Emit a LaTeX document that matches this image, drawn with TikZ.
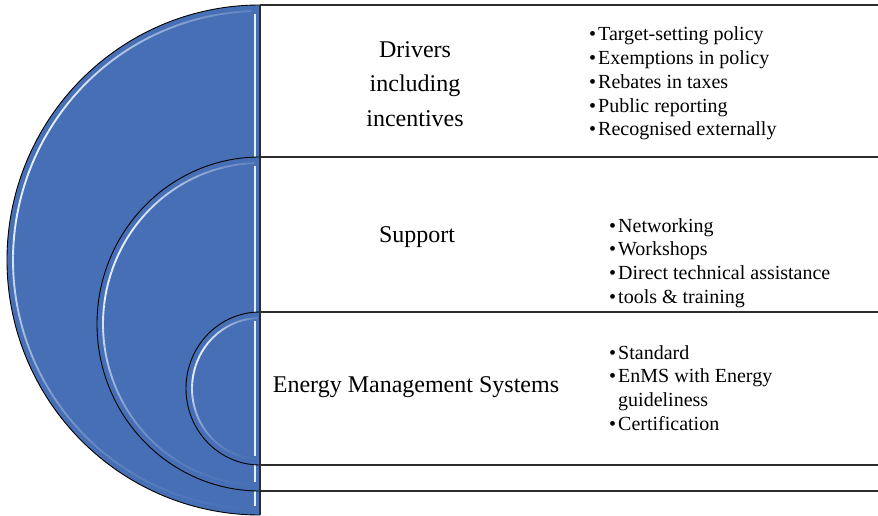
\documentclass[tikz,border=0pt]{standalone}
\usepackage{fontspec}
\setmainfont{Liberation Serif}
\newfontfamily\libserif{Liberation Serif}

\definecolor{shapeblue}{RGB}{71,111,181}
\definecolor{glint}{RGB}{228,238,252}
\definecolor{rulegray}{RGB}{45,45,45}

\tikzset{
  sepline/.style={draw=rulegray, line width=1.3pt},
  heading/.style={font=\libserif\fontsize{24}{34.5}\selectfont, align=center, inner sep=0pt},
  bulletlist/.style={font=\libserif\fontsize{20}{23.75}\selectfont, align=left, inner sep=0pt, anchor=west},
}

% bullet with a small gap before the item text
\newcommand\itm{\textbullet\kern2pt}
\newcommand\itmgap{\hphantom{\textbullet}\kern2pt}

% left half of an ellipse standing on the divider x = 260
% #1 centre y, #2 x radius, #3 y radius
\newcommand\drawhalfdisc[3]{%
  \fill[shapeblue] (260,#1+#3) arc[start angle=90, end angle=270, x radius=#2, y radius=#3] -- cycle;
  % glossy rim just inside the curved edge, brightest towards the upper left
  \foreach \a in {92,95,...,266}{
    \pgfmathsetmacro\op{0.95*exp(-((\a-155)/48)^2)+0.15*sin(\a-90)}
    \draw[glint, line width=1.9pt, opacity=\op]
      ({260+(#2-6)*cos(\a)},{#1+(#3-6)*sin(\a)})
      arc[start angle=\a, end angle=\a+3, x radius=#2-6, y radius=#3-6];
  }
  % light bevel along the straight edge
  \draw[glint, line width=1.6pt] (255,#1+#3-9) -- (255,#1-#3+9);
  \draw[black, line width=0.9pt] (260,#1+#3) arc[start angle=90, end angle=270, x radius=#2, y radius=#3];
}

\begin{document}
\begin{tikzpicture}[x=1pt, y=1pt]
  \useasboundingbox (0,0) rectangle (878,515);

  % nested half discs
  \begin{scope}
    \clip (0,0) rectangle (878,515);
    \drawhalfdisc{255}{253}{255}
  \end{scope}
  \drawhalfdisc{191}{163}{167}
  \drawhalfdisc{126.5}{74}{76.5}

  % table rules
  \coordinate (vtop) at (260,510);
  \coordinate (vbot) at (260,0);
  \draw[sepline] (vtop) -- (vbot);
  \foreach \yy/\nm in {510/r1, 358/r2, 203/r3, 50/r4, 24/r5}{
    \coordinate (\nm w) at (260,\yy);
    \coordinate (\nm e) at (878,\yy);
    \draw[sepline] (\nm w) -- (\nm e);
  }

  % row headings
  \node[heading] (drivers) at (415,431) {Drivers\\including\\incentives};
  \node[heading] (support) at (417,278) {Support};
  \node[heading] (enms) at (416,128) {Energy Management Systems};

  % item lists
  \node[bulletlist] (driverlist) at (589,431.5) {%
    \itm Target-setting policy\\
    \itm Exemptions in policy\\
    \itm Rebates in taxes\\
    \itm Public reporting\\
    \itm Recognised externally};
  \node[bulletlist] (supportlist) at (609,252) {%
    \itm Networking\\
    \itm Workshops\\
    \itm Direct technical assistance\\
    \itm tools \& training};
  \node[bulletlist] (enmslist) at (609,127) {%
    \itm Standard\\
    \itm EnMS with Energy\\
    \itmgap guideliness\\
    \itm Certification};
\end{tikzpicture}
\end{document}
